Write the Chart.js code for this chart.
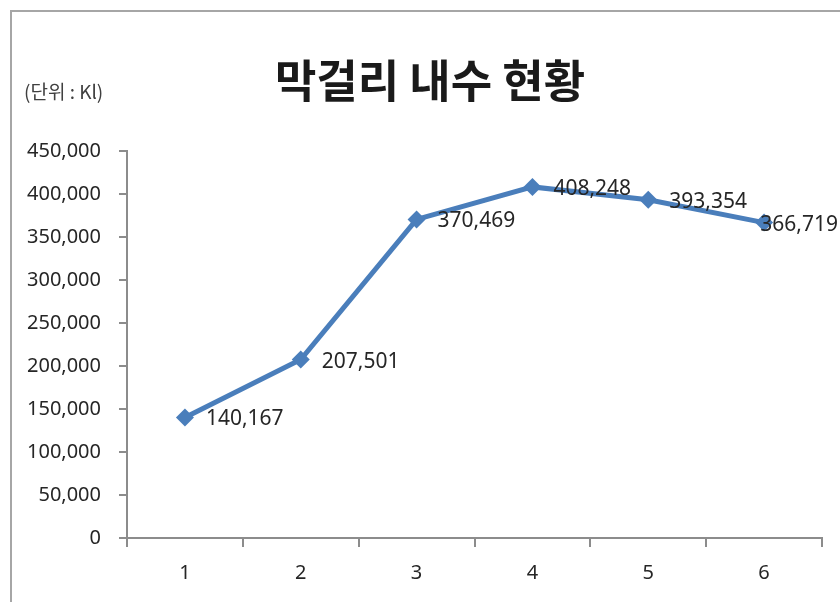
<!DOCTYPE html>
<html>
<head>
<meta charset="utf-8">
<script src="https://cdn.jsdelivr.net/npm/chart.js@4/dist/chart.umd.min.js"></script>
<style>
  html, body { margin: 0; padding: 0; background: #fff; }
  #wrap { width: 840px; height: 602px; position: relative; }
</style>
</head>
<body>
<div id="wrap"><canvas id="c" width="840" height="602"></canvas></div>
<script>
const categories = ['1', '2', '3', '4', '5', '6'];
const values = [140167, 207501, 370469, 408248, 393354, 366719];
const yTicks = [0, 50000, 100000, 150000, 200000, 250000, 300000, 350000, 400000, 450000];
const titleText = '막걸리 내수 현황';
const unitText = '(단위 : Kl)';

const LINE_COLOR = '#4a7ebb';
const AXIS_COLOR = '#8c8c8c';
const TEXT_COLOR = '#262626';
const NUM_FONT = '"Noto Sans", "DejaVu Sans", sans-serif';
const KR_FONT = '"Noto Sans CJK KR", "Noto Sans", sans-serif';

const fmt = v => Number(v).toLocaleString('en-US');

const decorPlugin = {
  id: 'decor',
  beforeDraw(chart) {
    const ctx = chart.ctx;
    ctx.save();
    ctx.fillStyle = '#ffffff';
    ctx.fillRect(0, 0, chart.width, chart.height);
    ctx.strokeStyle = '#a6a6a6';
    ctx.lineWidth = 2;
    ctx.strokeRect(11, 11, chart.width + 20, chart.height + 20);
    // title
    ctx.fillStyle = '#1a1a1a';
    ctx.font = 'bold 45px ' + KR_FONT;
    ctx.textAlign = 'center';
    ctx.textBaseline = 'middle';
    ctx.fillText(titleText, 430, 81);
    // unit
    ctx.fillStyle = '#404040';
    ctx.font = '19px ' + KR_FONT;
    ctx.textAlign = 'left';
    ctx.fillText(unitText, 24, 92);
    ctx.restore();
  },
  afterDatasetsDraw(chart) {
    const ctx = chart.ctx;
    const meta = chart.getDatasetMeta(0);
    ctx.save();
    ctx.fillStyle = TEXT_COLOR;
    ctx.font = '21px ' + NUM_FONT;
    ctx.textAlign = 'left';
    ctx.textBaseline = 'middle';
    meta.data.forEach((pt, i) => {
      const txt = fmt(values[i]);
      const w = ctx.measureText(txt).width;
      let x = pt.x + 21;
      if (x + w > chart.width - 2) x = chart.width - 2 - w;
      ctx.fillText(txt, x, pt.y + 2);
    });
    ctx.restore();
  }
};

new Chart(document.getElementById('c'), {
  type: 'line',
  data: {
    labels: categories,
    datasets: [{
      data: values,
      borderColor: LINE_COLOR,
      backgroundColor: LINE_COLOR,
      borderWidth: 5,
      pointStyle: 'rectRot',
      pointRadius: 9,
      pointHoverRadius: 9,
      pointBackgroundColor: LINE_COLOR,
      pointBorderColor: LINE_COLOR,
      pointBorderWidth: 0,
      tension: 0,
      fill: false
    }]
  },
  options: {
    responsive: false,
    animation: false,
    devicePixelRatio: 1,
    layout: { padding: { top: 151, right: 18, left: 0, bottom: 0 } },
    plugins: {
      legend: { display: false },
      title: { display: false },
      tooltip: { enabled: false }
    },
    scales: {
      x: {
        type: 'category',
        offset: true,
        afterFit(scale) { scale.height = 64; },
        grid: {
          offset: true,
          drawOnChartArea: false,
          drawTicks: true,
          tickLength: 9,
          color: AXIS_COLOR,
          lineWidth: 2
        },
        border: { color: AXIS_COLOR, width: 2 },
        ticks: {
          color: TEXT_COLOR,
          font: { family: NUM_FONT, size: 20 },
          padding: 14,
          maxRotation: 0
        }
      },
      y: {
        min: 0,
        max: 450000,
        afterFit(scale) { scale.width = 127; },
        afterBuildTicks(scale) { scale.ticks = yTicks.map(v => ({ value: v })); },
        grid: {
          drawOnChartArea: false,
          drawTicks: true,
          tickLength: 8,
          color: AXIS_COLOR,
          lineWidth: 2
        },
        border: { color: AXIS_COLOR, width: 2 },
        ticks: {
          color: TEXT_COLOR,
          font: { family: NUM_FONT, size: 20 },
          padding: 18,
          callback: v => fmt(v)
        }
      }
    }
  },
  plugins: [decorPlugin]
});
</script>
</body>
</html>
